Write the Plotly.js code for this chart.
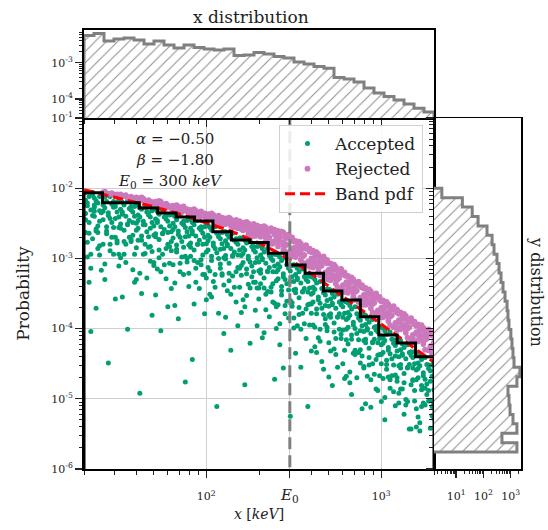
<!DOCTYPE html>
<html><head><meta charset="utf-8">
<script src="https://cdn.plot.ly/plotly-3.0.1.min.js"></script>
<style>html,body{margin:0;padding:0;background:#fff}</style>
</head><body><div id="chart" style="width:548px;height:530px"></div>
<script>
// ---- data (log10 values x100 for the scatter points) ----
const gx = [
131,133,135,137,139,132,136,138,134,131,139,136,133,137,131,135,138,132,134,139,131,136,133,137,135,138,132,139,134,136,
141,143,145,147,149,142,144,146,148,141,150,143,143,149,149,141,147,150,142,141,150,148,147,145,146,142,145,144,148,140,
151,153,155,157,159,152,154,156,158,151,160,153,156,154,159,160,151,158,159,151,160,152,157,155,157,152,153,155,158,150,
161,163,165,167,169,162,164,166,168,161,170,163,161,167,169,164,170,166,163,161,170,169,167,165,165,162,168,162,168,160,
171,173,175,177,179,172,174,176,178,171,180,173,179,175,179,173,172,177,171,171,180,174,177,175,180,172,176,178,178,170,
181,183,185,187,189,182,184,186,188,181,190,183,183,189,189,181,187,190,182,181,190,188,187,185,186,182,185,184,188,180,
191,193,195,197,199,192,194,196,198,191,200,193,191,197,199,194,200,196,193,191,200,199,197,195,195,192,198,192,198,190,
201,203,205,207,209,202,204,206,208,201,210,203,208,202,209,209,205,203,207,201,210,206,207,205,201,202,204,210,208,200,
211,213,215,217,219,212,214,216,218,211,220,213,219,215,219,213,212,217,211,211,220,214,217,215,220,212,216,218,218,210,
221,223,225,227,229,222,224,226,228,221,230,223,226,224,229,230,221,228,229,221,230,222,227,225,227,222,223,225,228,220,
231,233,235,237,239,232,234,236,238,231,240,233,231,237,239,234,240,236,233,231,240,239,237,235,235,232,238,232,238,230,
241,243,245,247,249,242,244,246,248,241,250,243,243,249,249,241,247,250,242,241,250,248,247,245,246,242,245,244,248,240,
251,253,255,257,259,252,254,256,258,251,260,253,259,255,259,253,252,257,251,251,260,254,257,255,260,252,256,258,258,250,
261,263,265,267,269,262,264,266,268,261,270,263,268,262,269,269,265,263,267,261,270,266,267,265,261,262,264,270,268,260,
271,273,275,277,279,272,274,276,278,271,280,273,276,274,279,280,271,278,279,271,280,272,277,275,277,272,273,275,278,270,
281,283,285,287,289,282,284,286,288,281,290,283,281,287,289,284,290,286,283,281,290,289,287,285,285,282,288,282,288,280,
291,293,295,297,299,292,294,296,298,291,300,293,299,295,299,293,292,297,291,291,300,294,297,295,300,292,296,298,298,290,
301,303,305,307,309,302,304,306,308,301,310,303,303,309,309,301,307,310,302,301,310,308,307,305,306,302,305,304,308,300,
311,313,315,317,319,312,314,316,318,311,320,313,318,312,319,319,315,313,317,311,320,316,317,315,311,312,314,320,318,310,
321,323,325,327,329,322,324,326,328,321,330,323,326,324,329,330,321,328,329,321,330,322,327,325,327,322,323,325,328,320,
132,135,138,133,136,139,131,134,137,140,
144,147,141,149,143,146,150,142,145,148,
152,155,158,153,156,159,151,154,157,160,
164,167,161,169,163,166,170,162,165,168,
172,175,178,173,176,179,171,174,177,180,
184,187,181,189,183,186,190,182,185,188,
192,195,198,193,196,199,191,194,197,200,
204,207,201,209,203,206,210,202,205,208,
212,215,218,213,216,219,211,214,217,220,
224,227,221,229,223,226,230,222,225,228,
232,235,238,233,236,239,231,234,237,240,
244,247,241,249,243,246,250,242,245,248,
252,255,258,253,256,259,251,254,257,260,
264,267,261,269,263,266,270,262,265,268,
272,275,278,273,276,279,271,274,277,280,
284,287,281,289,283,286,290,282,285,288,
292,295,298,293,296,299,291,294,297,300,
304,307,301,309,303,306,310,302,305,308,
312,315,318,313,316,319,311,314,317,320,
324,327,321,329,323,326,330,322,325,328];
const gy = [
-206,-212,-206,-218,-212,-221,-227,-221,-231,-236,-247,-214,-249,-258,-263,-272,-286,-298,-314,-232,-217,-240,-334,-371,-210,-263,-277,-295,-404,-224,
-211,-219,-212,-227,-220,-228,-235,-223,-243,-245,-217,-255,-265,-275,-234,-280,-294,-311,-330,-224,-256,-358,-219,-243,-270,-213,-289,-449,-226,-235,
-218,-224,-218,-231,-226,-234,-240,-229,-249,-251,-224,-260,-270,-280,-240,-285,-299,-316,-334,-230,-260,-355,-226,-251,-276,-220,-294,-401,-234,-241,
-223,-230,-227,-238,-232,-241,-247,-234,-257,-257,-229,-268,-274,-284,-249,-294,-310,-328,-350,-238,-267,-381,-235,-252,-280,-228,-304,-492,-241,-250,
-230,-237,-232,-244,-238,-246,-255,-241,-263,-265,-237,-273,-283,-294,-254,-299,-315,-329,-352,-244,-276,-403,-239,-264,-289,-233,-309,-369,-247,-254,
-238,-245,-239,-252,-246,-255,-261,-250,-269,-271,-244,-281,-291,-300,-262,-309,-323,-340,-367,-250,-281,-476,-247,-270,-298,-240,-319,-386,-256,-262,
-245,-252,-246,-260,-255,-261,-268,-257,-280,-278,-253,-288,-297,-309,-270,-314,-328,-343,-365,-257,-291,-379,-255,-280,-306,-249,-323,-444,-264,-268,
-253,-260,-255,-269,-263,-270,-278,-264,-287,-288,-262,-297,-308,-318,-279,-324,-341,-355,-378,-267,-299,-511,-264,-286,-313,-256,-333,-407,-272,-279,
-262,-270,-264,-277,-271,-280,-286,-274,-295,-296,-271,-307,-314,-325,-288,-332,-346,-362,-384,-275,-310,-431,-272,-296,-324,-266,-341,-396,-280,-286,
-271,-278,-274,-288,-283,-288,-297,-283,-306,-306,-282,-315,-326,-337,-299,-342,-359,-374,-396,-285,-318,-480,-283,-305,-334,-274,-353,-421,-291,-296,
-282,-291,-286,-300,-294,-300,-307,-296,-319,-316,-294,-328,-336,-348,-311,-351,-369,-383,-406,-295,-332,-472,-295,-318,-347,-286,-362,-413,-303,-305,
-295,-303,-299,-314,-310,-312,-322,-309,-333,-329,-309,-340,-352,-363,-326,-366,-385,-399,-423,-308,-345,-525,-309,-330,-361,-298,-379,-456,-318,-319,
-310,-319,-315,-330,-325,-328,-335,-326,-348,-344,-326,-356,-365,-378,-342,-380,-396,-414,-435,-323,-365,-455,-325,-347,-378,-314,-393,-511,-333,-333,
-327,-335,-333,-349,-344,-344,-355,-343,-367,-362,-344,-372,-386,-398,-360,-398,-418,-434,-458,-341,-381,-447,-344,-364,-395,-330,-413,-469,-352,-351,
-345,-355,-351,-366,-361,-364,-371,-362,-384,-379,-362,-392,-401,-414,-378,-416,-432,-450,-471,-358,-401,-481,-361,-383,-414,-350,-429,-455,-369,-368,
-363,-372,-369,-385,-380,-381,-391,-379,-403,-398,-380,-409,-422,-434,-396,-435,-454,-470,-494,-377,-417,-514,-380,-400,-431,-367,-449,-477,-388,-387,
-381,-391,-387,-402,-397,-400,-407,-398,-420,-415,-398,-428,-437,-450,-414,-452,-468,-486,-507,-394,-437,-512,-397,-419,-450,-386,-465,-488,-405,-404,
-399,-408,-405,-421,-416,-417,-427,-415,-439,-434,-416,-445,-458,-470,-432,-471,-490,-506,-530,-413,-453,-510,-416,-436,-467,-403,-485,-469,-424,-423,
-417,-427,-423,-438,-433,-436,-443,-434,-456,-451,-434,-464,-473,-486,-450,-488,-504,-522,-543,-430,-473,-543,-433,-455,-486,-422,-501,-514,-441,-440,
-435,-444,-441,-457,-452,-453,-463,-451,-475,-470,-450,-481,-494,-506,-468,-507,-526,-542,-524,-449,-487,-546,-452,-472,-503,-439,-511,-485,-460,-459,
-225,-239,-254,-264,-233,-282,-245,-294,-261,-317,
-239,-256,-233,-278,-261,-249,-294,-308,-280,-270,
-237,-252,-267,-276,-246,-294,-257,-306,-273,-330,
-252,-269,-246,-290,-274,-262,-306,-321,-293,-283,
-249,-265,-280,-288,-259,-307,-269,-319,-286,-343,
-266,-284,-259,-305,-287,-276,-321,-335,-307,-297,
-265,-280,-295,-303,-274,-323,-284,-334,-302,-359,
-282,-300,-275,-322,-303,-292,-338,-351,-323,-314,
-282,-297,-313,-321,-291,-341,-301,-351,-319,-377,
-301,-319,-293,-342,-322,-311,-358,-369,-342,-334,
-302,-319,-336,-342,-313,-364,-321,-373,-341,-400,
-326,-345,-316,-368,-346,-336,-385,-393,-367,-360,
-330,-348,-366,-370,-343,-395,-349,-401,-372,-432,
-359,-380,-349,-403,-379,-371,-420,-426,-401,-394,
-366,-384,-402,-405,-379,-431,-384,-437,-408,-468,
-395,-416,-385,-439,-415,-407,-456,-462,-437,-430,
-402,-420,-438,-441,-415,-467,-420,-473,-444,-504,
-431,-452,-421,-475,-451,-443,-492,-498,-473,-466,
-438,-456,-474,-477,-451,-503,-456,-509,-480,-540,
-467,-488,-457,-511,-487,-479,-528,-534,-509,-502];

const px = [
141,143,145,147,149,142,146,148,
151,153,155,157,159,152,154,156,158,160,
161,163,165,167,169,162,164,166,168,170,163,
171,173,175,177,179,172,174,176,178,180,173,177,
181,183,185,187,189,182,184,186,188,190,183,187,185,189,
191,193,195,197,199,192,194,196,198,200,193,197,195,199,191,196,
201,203,205,207,209,202,204,206,208,210,203,207,205,209,201,206,204,208,202,210,
211,213,215,217,219,212,214,216,218,220,213,217,215,219,211,216,214,218,212,220,
221,223,225,227,229,222,224,226,228,230,223,227,225,229,221,226,224,228,222,230,227,224,
231,233,235,237,239,232,234,236,238,240,233,237,235,239,231,236,234,238,232,240,237,234,
241,243,245,247,249,242,244,246,248,250,243,247,245,249,241,246,244,248,242,250,247,244,241,249,
251,253,255,257,259,252,254,256,258,260,253,257,255,259,251,256,254,258,252,260,257,254,251,259,253,
261,263,265,267,269,262,264,266,268,270,263,267,265,269,261,266,264,268,262,270,267,264,261,269,263,
271,273,275,277,279,272,274,276,278,280,273,277,275,279,271,276,274,278,272,280,277,274,271,279,273,
281,283,285,287,289,282,284,286,288,290,283,287,285,289,281,286,284,288,282,290,287,284,281,289,283,
291,293,295,297,299,292,294,296,298,300,293,297,295,299,291,296,294,298,292,300,297,294,291,299,293,
301,303,305,307,309,302,304,306,308,310,303,307,305,309,301,306,304,308,302,310,307,304,301,309,303,
311,313,315,317,319,312,314,316,318,320,313,317,315,319,311,316,314,318,312,320,317,314,311,319,313,
321,323,325,327,329,322,324,326,328,330,323,327,325,329,321,326,324,328,322,330,327,324,321,329,323,
222,224,226,228,230,221,225,229,
232,234,236,238,240,231,235,239,
242,244,246,248,250,241,245,249,
252,254,256,258,260,251,255,259,
262,264,266,268,270,261,265,269,
272,274,276,278,280,271,275,279,
282,284,286,288,290,281,285,289,
292,294,296,298,300,291,295,299,
302,304,306,308,310,301,305,309,
312,314,316,318,320,311,315,319,
322,324,326,328,330,321,325,329];
const py = [
-206,-207,-208,-209,-209,-205,-207,-210,
-209,-211,-213,-212,-214,-212,-210,-215,-216,-213,
-214,-216,-219,-217,-220,-218,-215,-221,-219,-222,-213,
-219,-221,-224,-222,-226,-224,-219,-227,-224,-229,-218,-228,
-225,-228,-231,-229,-233,-231,-226,-234,-231,-236,-224,-226,-234,-230,
-231,-234,-238,-236,-240,-237,-232,-242,-238,-244,-230,-233,-242,-236,-238,-235,
-237,-240,-244,-242,-246,-243,-238,-248,-244,-251,-236,-239,-249,-242,-244,-241,-246,-250,-239,-245,
-243,-246,-250,-248,-252,-249,-244,-255,-250,-258,-242,-245,-256,-247,-251,-247,-253,-257,-245,-250,
-249,-252,-257,-254,-259,-256,-250,-262,-256,-266,-248,-251,-263,-253,-258,-255,-260,-264,-252,-258,-268,-266,
-255,-258,-263,-260,-266,-262,-256,-270,-262,-274,-254,-257,-271,-259,-266,-261,-267,-276,-258,-265,-279,-275,
-261,-262,-270,-266,-274,-269,-263,-280,-271,-285,-262,-266,-282,-270,-274,-268,-277,-290,-263,-276,-294,-288,-283,-297,
-275,-279,-285,-283,-290,-284,-279,-295,-287,-300,-276,-281,-297,-286,-289,-284,-292,-305,-278,-291,-309,-302,-298,-312,-290,
-289,-293,-299,-298,-305,-298,-294,-310,-303,-316,-291,-297,-312,-302,-303,-300,-306,-320,-292,-307,-326,-318,-313,-330,-308,
-307,-311,-317,-316,-323,-316,-312,-328,-321,-334,-309,-315,-330,-320,-321,-318,-324,-338,-310,-325,-344,-336,-331,-348,-326,
-325,-329,-335,-334,-341,-334,-330,-346,-339,-352,-327,-333,-348,-338,-339,-336,-342,-356,-328,-343,-362,-354,-349,-366,-344,
-342,-346,-352,-351,-358,-351,-347,-363,-356,-370,-344,-350,-365,-355,-356,-353,-359,-374,-345,-361,-380,-371,-366,-384,-362,
-360,-364,-370,-369,-376,-369,-365,-381,-374,-388,-362,-368,-383,-373,-374,-371,-377,-392,-363,-379,-398,-389,-384,-402,-380,
-377,-381,-387,-386,-393,-386,-382,-398,-391,-405,-379,-385,-400,-390,-391,-388,-394,-409,-380,-396,-415,-406,-401,-420,-397,
-394,-398,-403,-403,-409,-402,-399,-414,-407,-420,-395,-401,-416,-405,-408,-405,-410,-425,-396,-411,-431,-422,-418,-436,-413,
-254,-261,-254,-268,-264,-260,-267,-255,
-261,-270,-262,-279,-272,-269,-278,-262,
-270,-281,-271,-292,-286,-278,-290,-274,
-284,-295,-286,-307,-302,-293,-306,-289,
-300,-312,-303,-325,-320,-309,-324,-307,
-317,-330,-321,-343,-337,-327,-341,-324,
-335,-348,-338,-361,-355,-345,-359,-341,
-353,-365,-356,-378,-373,-362,-377,-359,
-370,-383,-373,-396,-390,-380,-395,-377,
-387,-401,-390,-414,-407,-398,-413,-394,
-405,-418,-407,-431,-424,-416,-430,-409];

// Band pdf curve
const pdfX = [20,30,40,50,70,100,130,150,200,250,300,350,390,500,700,1000,1500,2000];
const pdfY = [9.50e-3,7.50e-3,6.28e-3,5.43e-3,4.30e-3,3.25e-3,2.58e-3,2.25e-3,1.65e-3,1.25e-3,9.6e-4,7.56e-4,6.27e-4,4.01e-4,2.19e-4,1.15e-4,5.55e-5,3.31e-5];

// black step histogram of accepted x (19 log bins over 20..2000 keV)
const stepVals = [8.63e-3,6.21e-3,6.21e-3,5.22e-3,4.43e-3,3.89e-3,3.41e-3,2.40e-3,1.83e-3,1.69e-3,1.18e-3,8.05e-4,6.14e-4,3.44e-4,2.55e-4,1.48e-4,8.11e-5,6.24e-5,3.98e-5];
// top "x distribution" histogram (35 log bins over 20..2000 keV)
const xHistVals = [5.61e-3,6.37e-3,3.96e-3,4.50e-3,4.79e-3,4.22e-3,3.27e-3,3.96e-3,3.07e-3,2.54e-3,3.07e-3,2.62e-3,2.38e-3,2.24e-3,2.38e-3,1.58e-3,1.63e-3,1.91e-3,1.74e-3,1.48e-3,1.35e-3,1.04e-3,9.2e-4,7.9e-4,7.1e-4,3.91e-4,3.56e-4,2.94e-4,2.01e-4,1.46e-4,1.17e-4,9.4e-5,7.3e-5,5.6e-5,4.4e-5];
// right "y distribution" histogram counts (28 log bins from 1e-2 down to ~1.74e-6)
const yHistCounts = [3,17,39,64,136,209,246,316,376,445,526,624,740,800,870,1020,1120,1220,1330,2190,1700,800,870,950,1220,1700,480,1700];
const xRangeKeV = [20, 2000];
const yHistRange = [1e-2, 1.74e-6];
const E0 = 300;

// ---- helpers ----
const L = v => Math.pow(10, v / 100);
function logEdges(a, b, n) { const la = Math.log10(a), lb = Math.log10(b); const e = []; for (let i = 0; i <= n; i++) e.push(Math.pow(10, la + (lb - la) * i / n)); return e; }
function minors(lo, hi) { const out = []; for (let e = Math.floor(Math.log10(lo)) - 1; e <= Math.ceil(Math.log10(hi)); e++) { for (let d = 2; d <= 9; d++) { const v = d * Math.pow(10, e); if (v >= lo * 0.999 && v <= hi * 1.001) out.push(v); } } return out; }
function stepXY(vals, edges, floor) {
  const x = [edges[0]], y = [floor];
  vals.forEach((v, i) => { x.push(edges[i], edges[i + 1]); y.push(v, v); });
  x.push(edges[edges.length - 1]); y.push(floor);
  return {x, y};
}
const supLbl = e => '10<sup>' + e + '</sup>';

const mainEdges = logEdges(xRangeKeV[0], xRangeKeV[1], stepVals.length);
const topEdges = logEdges(xRangeKeV[0], xRangeKeV[1], xHistVals.length);
const yEdges = logEdges(yHistRange[0], yHistRange[1], yHistCounts.length);

const mainStep = stepXY(stepVals, mainEdges, 1e-8);
const topStep = stepXY(xHistVals, topEdges, 1e-6);
const rx = [1], ry = [yEdges[0]];
yHistCounts.forEach((c, i) => { rx.push(c, c); ry.push(yEdges[i], yEdges[i + 1]); });
rx.push(1); ry.push(yEdges[yEdges.length - 1]);

const FONT = 'DejaVu Serif';
const traces = [
  {type: 'scatter', mode: 'markers', name: 'Accepted', legendgroup: 'a',
   x: gx.map(L), y: gy.map(L), marker: {color: '#029e73', size: 5}, xaxis: 'x', yaxis: 'y'},
  {type: 'scatter', mode: 'markers', name: 'Rejected', legendgroup: 'b',
   x: px.map(L), y: py.map(L), marker: {color: '#cc78bc', size: 5.8}, xaxis: 'x', yaxis: 'y'},
  {type: 'scatter', mode: 'lines', name: 'Band pdf', legendgroup: 'c',
   x: pdfX, y: pdfY, line: {color: '#ff0000', width: 3.2, dash: '10px,5px'}, xaxis: 'x', yaxis: 'y'},
  {type: 'scatter', mode: 'lines', showlegend: false, hoverinfo: 'skip',
   x: mainStep.x, y: mainStep.y, line: {color: 'black', width: 3}, xaxis: 'x', yaxis: 'y'},
  {type: 'scatter', mode: 'lines', showlegend: false, hoverinfo: 'skip',
   x: [E0, E0], y: [1e-7, 1], line: {color: '#808080', width: 3, dash: '12px,6px'}, xaxis: 'x', yaxis: 'y'},
  {type: 'scatter', mode: 'lines', showlegend: false, hoverinfo: 'skip',
   x: topStep.x, y: topStep.y, fill: 'toself', fillcolor: 'rgba(0,0,0,0)',
   fillpattern: {shape: '/', fgcolor: '#8a8a8a', bgcolor: 'white', size: 8, solidity: 0.12},
   line: {color: '#808080', width: 3}, xaxis: 'x2', yaxis: 'y2'},
  {type: 'scatter', mode: 'lines', showlegend: false, hoverinfo: 'skip',
   x: rx, y: ry, fill: 'toself', fillcolor: 'rgba(0,0,0,0)',
   fillpattern: {shape: '/', fgcolor: '#8a8a8a', bgcolor: 'white', size: 8, solidity: 0.12},
   line: {color: '#808080', width: 3}, xaxis: 'x3', yaxis: 'y3'}
];

const W = 548, H = 530;
const mainX = [84 / W, 434 / W], mainY = [(H - 469) / H, (H - 118) / H];
const topY = [(H - 118) / H, (H - 30) / H];
const rightX = [434 / W, 521 / W];
const tickCommon = {ticks: 'outside', ticklen: 7, tickwidth: 1.2, tickcolor: '#222', showline: true, linecolor: 'black', zeroline: false,
  tickfont: {family: FONT, size: 11, color: '#222'}};
const minorCommon = {ticks: 'outside', ticklen: 3.5, tickwidth: 1, tickcolor: '#222', showgrid: false, tickmode: 'array'};
const ann = (text, x, y, size, extra) => Object.assign({text, xref: 'paper', yref: 'paper', x: x / W, y: (H - y) / H,
  xanchor: 'center', yanchor: 'middle', showarrow: false, font: {family: FONT, size, color: '#222'}}, extra || {});

const layout = {
  width: W, height: H, margin: {l: 0, r: 0, t: 0, b: 0},
  paper_bgcolor: 'white', plot_bgcolor: 'white',
  font: {family: FONT, color: '#222'},
  showlegend: true,
  legend: {x: 279 / W, y: (H - 125) / H, xanchor: 'left', yanchor: 'top', itemwidth: 45,
    font: {family: FONT, size: 17, color: '#222'}, bgcolor: 'rgba(255,255,255,0.85)',
    bordercolor: '#d0d0d0', borderwidth: 1, tracegroupgap: 0, traceorder: 'grouped'},
  xaxis: Object.assign({}, tickCommon, {
    type: 'log', domain: mainX, anchor: 'y', range: xRangeKeV.map(Math.log10), linewidth: 2, mirror: true,
    tickmode: 'array', tickvals: [100, E0, 1000],
    ticktext: [supLbl(2), '<span style="font-size:15px"><i>E</i><sub>0</sub></span>', supLbl(3)],
    ticklabelstandoff: 9,
    showgrid: true, gridcolor: '#cfcfcf', gridwidth: 1,
    minor: Object.assign({}, minorCommon, {tickvals: minors(xRangeKeV[0], xRangeKeV[1])}),
    title: {text: '<i>x</i> [<i>keV</i>]', font: {family: FONT, size: 14, color: '#222'}, standoff: 5}}),
  yaxis: Object.assign({}, tickCommon, {
    type: 'log', domain: mainY, anchor: 'x', range: [-6, -1], linewidth: 2, mirror: true,
    tickmode: 'array', tickvals: [1e-6, 1e-5, 1e-4, 1e-3, 1e-2, 1e-1],
    ticktext: [-6, -5, -4, -3, -2, -1].map(supLbl),
    showgrid: true, gridcolor: '#cfcfcf', gridwidth: 1,
    minor: Object.assign({}, minorCommon, {tickvals: minors(1e-6, 1e-1)}),
    title: {text: 'Probability', font: {family: FONT, size: 17, color: '#222'}, standoff: 17}}),
  xaxis2: Object.assign({}, tickCommon, {
    type: 'log', domain: mainX, anchor: 'y2', range: xRangeKeV.map(Math.log10), linewidth: 2, mirror: true,
    tickmode: 'array', tickvals: [100, 1000], showticklabels: false, showgrid: false,
    minor: Object.assign({}, minorCommon, {tickvals: minors(xRangeKeV[0], xRangeKeV[1])})}),
  yaxis2: Object.assign({}, tickCommon, {
    type: 'log', domain: topY, anchor: 'x2', range: [-4.52, -2.1], linewidth: 2, mirror: true,
    tickmode: 'array', tickvals: [1e-4, 1e-3], ticktext: [supLbl(-4), supLbl(-3)], showgrid: false,
    minor: Object.assign({}, minorCommon, {tickvals: minors(3.1e-5, 7.9e-3)})}),
  xaxis3: Object.assign({}, tickCommon, {
    type: 'log', domain: rightX, anchor: 'y3', range: [0.19, 3.38], linewidth: 1.5, mirror: true,
    tickmode: 'array', tickvals: [10, 100, 1000], ticktext: [supLbl(1), supLbl(2), supLbl(3)],
    ticklabelstandoff: 9, showgrid: false,
    minor: Object.assign({}, minorCommon, {tickvals: minors(1.6, 2300)})}),
  yaxis3: Object.assign({}, tickCommon, {
    type: 'log', domain: mainY, anchor: 'x3', range: [-6, -1], linewidth: 1.5, mirror: true,
    tickmode: 'array', tickvals: [1e-6, 1e-5, 1e-4, 1e-3, 1e-2, 1e-1], showticklabels: false, showgrid: false,
    minor: Object.assign({}, minorCommon, {tickvals: minors(1e-6, 1e-1)})}),
  annotations: [
    ann('x distribution', 251, 17, 17),
    ann('y distribution', 537, 292, 16, {textangle: 90}),
    ann('<i>α</i> = −0.50', 175, 139, 15),
    ann('<i>β</i> = −1.80', 175, 160, 15),
    ann('<i>E</i><sub>0</sub> = 300 <i>keV</i>', 170, 181, 15)
  ]
};

Plotly.newPlot('chart', traces, layout, {staticPlot: true, displayModeBar: false});
</script></body></html>
